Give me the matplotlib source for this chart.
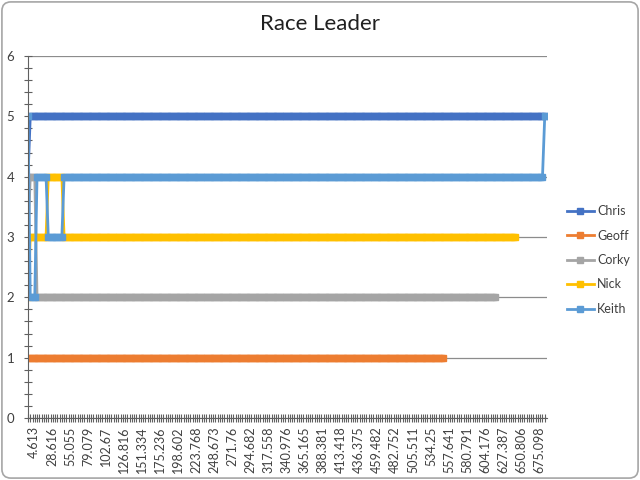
import numpy as np
import matplotlib
matplotlib.use("Agg")
import matplotlib.pyplot as plt
from matplotlib.patches import FancyBboxPatch
from matplotlib.ticker import MultipleLocator

plt.rcParams["font.family"] = ["Lato", "DejaVu Sans"]

# position runs: (position, number of consecutive categories)
drivers = ["Chris", "Geoff", "Corky", "Nick", "Keith"]
chris_runs = [(4, 1), (5, 229)]
geoff_runs = [(1, 185)]
corky_runs = [(3, 1), (4, 3), (2, 204)]
nick_runs = [(2, 1), (3, 8), (4, 7), (3, 201)]
keith_runs = [(5, 1), (2, 3), (4, 5), (3, 7), (4, 213), (5, 1)]
n_categories = 230

# category labels shown on the axis (every 8th category)
x_labels = ["4.613", "28.616", "55.055", "79.079", "102.67", "126.816",
            "151.334", "175.236", "198.602", "223.768", "248.673", "271.76",
            "294.682", "317.558", "340.976", "365.165", "388.381", "413.418",
            "436.375", "459.482", "482.752", "505.511", "534.25", "557.641",
            "580.791", "604.176", "627.387", "650.806", "675.098"]
label_step = 8

colors = ["#4472C4", "#ED7D31", "#A5A5A5", "#FFC000", "#5B9BD5"]


def expand(runs):
    vals = np.repeat([r[0] for r in runs], [r[1] for r in runs]).astype(float)
    out = np.full(n_categories, np.nan)
    out[:len(vals)] = vals
    return out


series = [expand(r) for r in (chris_runs, geoff_runs, corky_runs, nick_runs, keith_runs)]

fig = plt.figure(figsize=(6.4, 4.8), dpi=100)
ax = fig.add_axes([28 / 640, 62 / 480, 519 / 640, 362 / 480])

x = np.arange(n_categories)
for name, y, c in zip(drivers, series, colors):
    ax.plot(x, y, "-", color=c, lw=2, marker="s", ms=4, mec=c, mfc=c, label=name)

ax.set_xlim(0, n_categories - 1 + 1.0)
ax.set_ylim(0, 6)
ax.yaxis.set_major_locator(MultipleLocator(1))
ax.yaxis.set_minor_locator(MultipleLocator(0.2))
ax.grid(axis="y", which="major", color="#8c8c8c", lw=0.9, zorder=0)
ax.set_axisbelow(True)

ticks = np.arange(n_categories)
ax.set_xticks(ticks)
ax.set_xticklabels([x_labels[i // label_step] if i % label_step == 0 and i // label_step < len(x_labels) else ""
                    for i in ticks], fontsize=9, color="#404040",
                   rotation=90, rotation_mode="anchor", ha="right", va="top")
ax.tick_params(axis="x", direction="inout", length=6, width=0.8, color="#606060", pad=3)
ax.tick_params(axis="y", which="both", direction="inout", length=6, width=0.8,
               color="#606060", labelsize=9.5, labelcolor="#404040", pad=7)

for s in ("top", "right"):
    ax.spines[s].set_visible(False)
for s in ("left", "bottom"):
    ax.spines[s].set_color("#606060")
    ax.spines[s].set_linewidth(0.8)

fig.suptitle("Race Leader", y=0.97, fontsize=16, color="#202020")

fig.legend(loc="center left", bbox_to_anchor=(556 / 640, 1 - 260 / 480), frameon=False,
           fontsize=9, handlelength=2.1, labelspacing=1.0, handletextpad=0.3,
           labelcolor="#404040")

fig.patches.append(FancyBboxPatch((0.003, 0.004), 0.994, 0.992,
                                  boxstyle="round,pad=0,rounding_size=0.014",
                                  mutation_aspect=640 / 480, transform=fig.transFigure,
                                  fill=False, edgecolor="#a6a6a6", lw=1.2))

fig.savefig("out.png", dpi=100)
